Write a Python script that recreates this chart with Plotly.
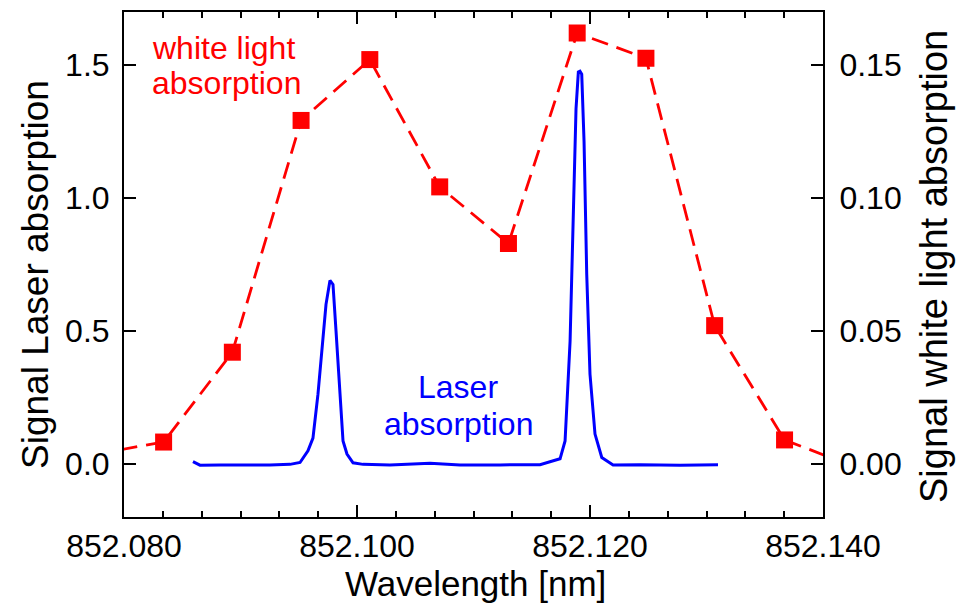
import plotly.graph_objects as go

# ---- data ----
laser_wl = [852.08592, 852.08652, 852.08824, 852.08996, 852.09253, 852.09425, 852.09511,
            852.09579, 852.09622, 852.09665, 852.09700, 852.09734, 852.09768, 852.09794,
            852.09820, 852.09846, 852.09880, 852.09914, 852.09966, 852.10052, 852.10283,
            852.10627, 852.10884, 852.11228, 852.11571, 852.11743, 852.11786, 852.11829,
            852.11857, 852.11880, 852.11900, 852.11914, 852.11929, 852.11949, 852.11972,
            852.12000, 852.12043, 852.12101, 852.12198, 852.12429, 852.12773, 852.13099]
laser_signal = [0.008, -0.005, -0.004, -0.005, -0.004, -0.002, 0.005,
                0.049, 0.097, 0.262, 0.424, 0.600, 0.690, 0.675,
                0.499, 0.300, 0.086, 0.037, 0.004, -0.002, -0.004,
                0.002, -0.004, -0.004, -0.003, 0.019, 0.086, 0.461,
                0.961, 1.336, 1.474, 1.477, 1.466, 1.211, 0.712,
                0.337, 0.112, 0.024, -0.004, -0.003, -0.005, -0.003]

white_wl = [852.0775, 852.0834, 852.0893, 852.0952, 852.1011, 852.1071,
            852.1130, 852.1189, 852.1248, 852.1307, 852.1367, 852.1426]
white_signal = [0.0036, 0.0082, 0.0420, 0.1292, 0.1521, 0.1042,
                0.0829, 0.1621, 0.1526, 0.0520, 0.0090, -0.0009]

x_tickvals = [852.08, 852.10, 852.12, 852.14]
x_ticktext = ["852.080", "852.100", "852.120", "852.140"]
y_tickvals = [0.0, 0.5, 1.0, 1.5]
y_ticktext = ["0.0", "0.5", "1.0", "1.5"]
y2_tickvals = [0.00, 0.05, 0.10, 0.15]
y2_ticktext = ["0.00", "0.05", "0.10", "0.15"]

FONT = "Arial, Liberation Sans, sans-serif"
RED = "#ff0000"
BLUE = "#0000ff"

x_minor = [852.08 + i * 0.02 / 6 for i in range(19)]

fig = go.Figure()
fig.add_trace(go.Scatter(x=laser_wl, y=laser_signal, mode="lines",
                         line=dict(color=BLUE, width=3), yaxis="y",
                         showlegend=False))
fig.add_trace(go.Scatter(x=white_wl, y=white_signal, mode="lines+markers",
                         line=dict(color=RED, width=2.8, dash="17px,9px"),
                         marker=dict(symbol="square", size=17, color=RED),
                         yaxis="y2", showlegend=False))

axis_common = dict(showgrid=False, zeroline=False, showline=True,
                   linecolor="black", linewidth=2, ticks="inside",
                   ticklen=12, tickwidth=2, tickcolor="black",
                   tickfont=dict(family=FONT, size=32, color="black"))

fig.update_layout(
    width=957, height=606,
    margin=dict(l=124, r=134, t=10, b=89),
    paper_bgcolor="white", plot_bgcolor="white",
    font=dict(family=FONT, color="black"),
    xaxis=dict(range=[852.08, 852.14], tickvals=x_tickvals, ticktext=x_ticktext,
               mirror="ticks",
               minor=dict(tickvals=x_minor, ticks="inside", ticklen=6,
                          tickwidth=2, tickcolor="black", showgrid=False),
               **axis_common),
    yaxis=dict(range=[-0.2, 1.7], tickvals=y_tickvals, ticktext=y_ticktext,
               ticklabelstandoff=6, **axis_common),
    yaxis2=dict(range=[-0.02, 0.17], tickvals=y2_tickvals, ticktext=y2_ticktext,
                overlaying="y", side="right", ticklabelstandoff=8, **axis_common),
)

ann = [
    dict(text="white light", x=0.0372, y=0.929, xanchor="left", yanchor="middle",
         font=dict(size=32, color=RED)),
    dict(text="absorption", x=0.0372, y=0.860, xanchor="left", yanchor="middle",
         font=dict(size=32, color=RED)),
    dict(text="Laser", x=0.478, y=(517 - 386) / 507, xanchor="center", yanchor="middle",
         font=dict(size=32, color=BLUE)),
    dict(text="absorption", x=0.478, y=(517 - 424) / 507, xanchor="center", yanchor="middle",
         font=dict(size=32, color=BLUE)),
    dict(text="Wavelength [nm]", x=(475 - 124) / 699, y=(517 - 584) / 507,
         xanchor="center", yanchor="middle", font=dict(size=35, color="black")),
    dict(text="Signal Laser absorption", x=(36 - 124) / 699, y=(517 - 274) / 507,
         textangle=-90, xanchor="center", yanchor="middle",
         font=dict(size=37, color="black")),
    dict(text="Signal white light absorption", x=(934 - 124) / 699, y=(517 - 266) / 507,
         textangle=-90, xanchor="center", yanchor="middle",
         font=dict(size=38, color="black")),
]
for a in ann:
    a.update(xref="paper", yref="paper", showarrow=False)
    a["font"]["family"] = FONT
fig.update_layout(annotations=ann)

fig.write_html("out.html")
